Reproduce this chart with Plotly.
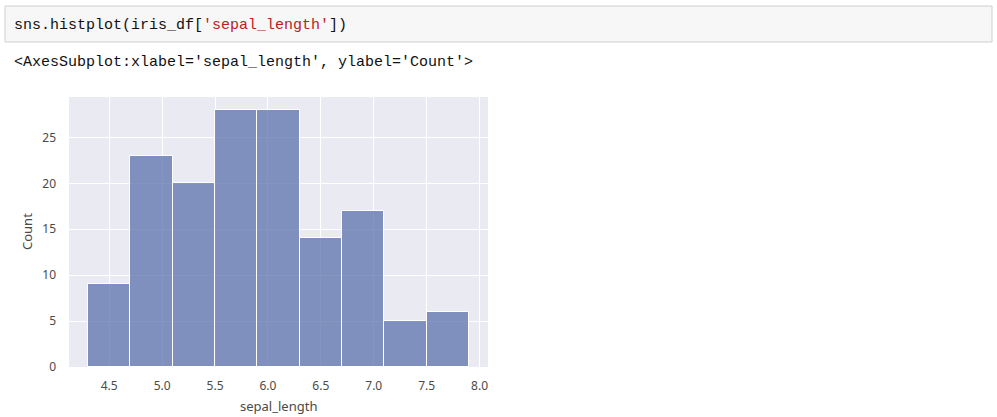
import plotly.graph_objects as go

W, H = 997, 417

bin_edges = [4.3, 4.7, 5.1, 5.5, 5.9, 6.3, 6.7, 7.1, 7.5, 7.9]
counts = [9, 23, 20, 28, 28, 14, 17, 5, 6]
x_ticks = [4.5, 5.0, 5.5, 6.0, 6.5, 7.0, 7.5, 8.0]
y_ticks = [0, 5, 10, 15, 20, 25]

centers = [(a + b) / 2 for a, b in zip(bin_edges[:-1], bin_edges[1:])]
widths = [b - a for a, b in zip(bin_edges[:-1], bin_edges[1:])]

L, R, T, B = 69, 488, 97, 367

def px(x):
    return (x - L) / (R - L)

def py(y):
    return (B - y) / (B - T)

fig = go.Figure()
fig.add_trace(go.Bar(
    x=centers, y=counts, width=widths,
    marker=dict(color="rgba(91,113,173,0.75)", line=dict(color="white", width=1)),
    hoverinfo="x+y",
))

tick_font = dict(family="Noto Sans, Open Sans, sans-serif", size=12, color="#4a4a4a")

fig.update_layout(
    width=W, height=H,
    margin=dict(l=L, r=W - R, t=T, b=H - B, autoexpand=False),
    paper_bgcolor="white",
    plot_bgcolor="#EAEAF2",
    showlegend=False,
    bargap=0,
    xaxis=dict(
        range=[4.12, 8.08],
        tickvals=x_ticks,
        ticktext=[f"{v:.1f}" for v in x_ticks],
        showgrid=True, gridcolor="white", gridwidth=1,
        zeroline=False, showline=False, ticks="",
        ticklabelstandoff=10,
        tickfont=tick_font, automargin=False,
    ),
    yaxis=dict(
        range=[0, 29.4],
        tickvals=y_ticks,
        showgrid=True, gridcolor="white", gridwidth=1,
        zeroline=False, showline=False, ticks="",
        ticklabelstandoff=12,
        tickfont=tick_font, automargin=False,
    ),
    shapes=[dict(
        type="rect", xref="paper", yref="paper",
        x0=px(5), x1=px(992), y0=py(42), y1=py(6),
        fillcolor="#F7F7F7", line=dict(color="#CFCFCF", width=1),
        layer="below",
    )],
)

mono = "Liberation Mono, DejaVu Sans Mono, monospace"
fig.add_annotation(
    xref="paper", yref="paper", x=px(12), y=py(25),
    xanchor="left", yanchor="middle", showarrow=False,
    text="sns.histplot(iris_df[<span style='color:#BA2121'>'sepal_length'</span>])",
    font=dict(family=mono, size=15, color="#111111"),
)
fig.add_annotation(
    xref="paper", yref="paper", x=px(12), y=py(62),
    xanchor="left", yanchor="middle", showarrow=False,
    text="&lt;AxesSubplot:xlabel='sepal_length', ylabel='Count'&gt;",
    font=dict(family=mono, size=15, color="#111111"),
)
fig.add_annotation(
    xref="paper", yref="paper", x=px(27), y=py(232),
    xanchor="center", yanchor="middle", showarrow=False, textangle=-90,
    text="Count", font=dict(family="Noto Sans, Open Sans, sans-serif", size=13, color="#4a4a4a"),
)
fig.add_annotation(
    xref="paper", yref="paper", x=px(278), y=py(406),
    xanchor="center", yanchor="middle", showarrow=False,
    text="sepal_length", font=dict(family="Noto Sans, Open Sans, sans-serif", size=13, color="#4a4a4a"),
)

fig.write_html(
    "out.html",
    config={"displayModeBar": False},
    post_script="document.body.style.margin='0';document.body.style.overflow='hidden';",
)
